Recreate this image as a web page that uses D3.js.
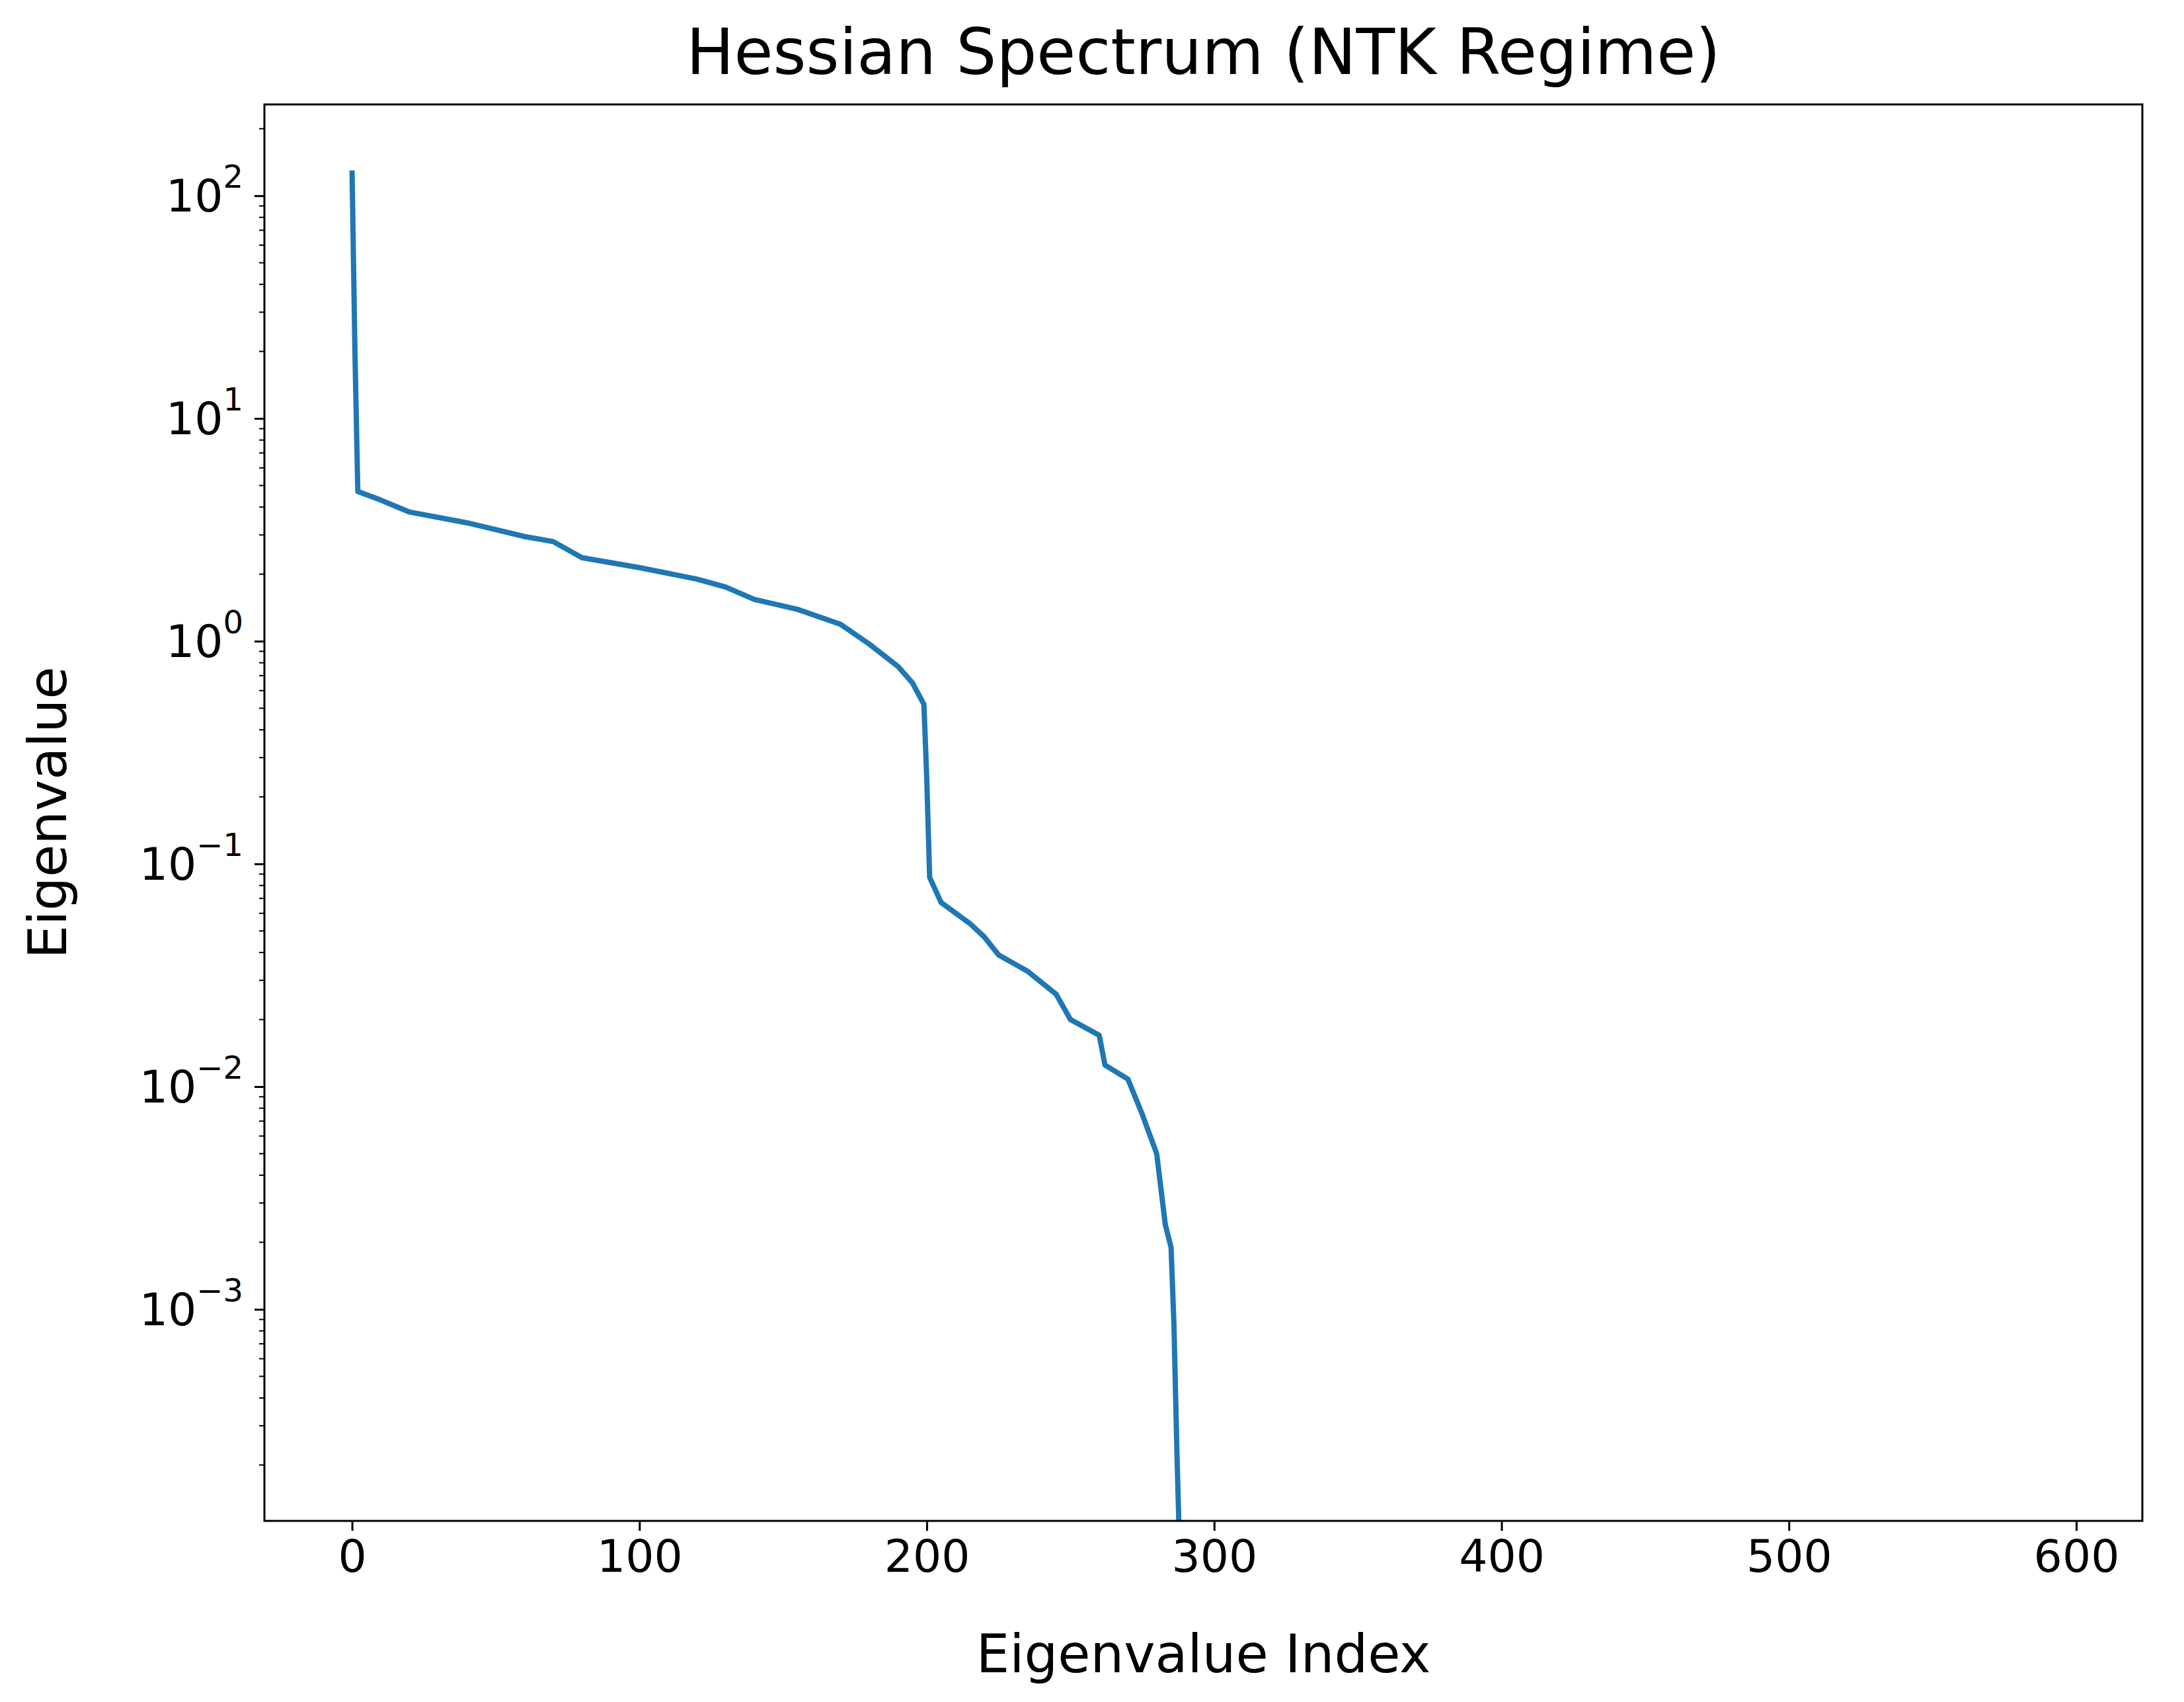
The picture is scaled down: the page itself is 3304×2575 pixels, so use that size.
<!DOCTYPE html>
<html><head><meta charset="utf-8">
<script src="https://cdn.jsdelivr.net/npm/d3@7"></script>
<style>body{margin:0;background:#fff}</style>
</head><body>
<svg id="chart" width="3304" height="2575"></svg>
<script>
// eigenvalue index and value
const idx = [0, 1, 2, 10, 20, 40, 60, 70, 80, 100, 120, 130, 140, 155, 170, 180, 190, 195, 199, 200, 201, 205, 215, 220, 225, 235, 245, 250, 260, 262, 270, 275, 280, 283, 285, 286, 287, 288];
const eig = [130, 20, 4.7, 4.3, 3.8, 3.4, 2.95, 2.8, 2.37, 2.14, 1.9, 1.75, 1.54, 1.39, 1.19, 0.97, 0.77, 0.65, 0.52, 0.24, 0.087, 0.067, 0.054, 0.047, 0.039, 0.033, 0.026, 0.020, 0.017, 0.0125, 0.0108, 0.0075, 0.005, 0.0024, 0.0019, 0.00086, 0.00024, 0.00008];
const xTicks = [0, 100, 200, 300, 400, 500, 600];
const yExps = [-3, -2, -1, 0, 1, 2];

const svg = d3.select("#chart");
const margin = {top: 158, right: 63, bottom: 274, left: 400};
const width = 3304, height = 2575;
const font = "DejaVu Sans, sans-serif";

const x = d3.scaleLinear().domain([-30.5, 623]).range([margin.left, width - margin.right]);
const y = d3.scaleLog().domain([Math.pow(10, -3.95), Math.pow(10, 2.41)]).range([height - margin.bottom, margin.top]);

svg.append("defs").append("clipPath").attr("id", "clip")
    .append("rect").attr("x", margin.left).attr("y", margin.top)
    .attr("width", width - margin.left - margin.right).attr("height", height - margin.top - margin.bottom);

// x axis
const xAxis = svg.append("g")
    .attr("transform", `translate(0, ${height - margin.bottom})`)
    .call(d3.axisBottom(x).tickValues(xTicks).tickSize(15).tickPadding(14));
xAxis.select(".domain").remove();
xAxis.selectAll("line").attr("stroke-width", 3);
xAxis.selectAll("text").attr("font-family", font).attr("font-size", 68).attr("fill", "#000");

// y axis, major ticks
const yAxis = svg.append("g")
    .attr("transform", `translate(${margin.left}, 0)`)
    .call(d3.axisLeft(y).tickValues(yExps.map(e => Math.pow(10, e))).tickSize(15).tickPadding(14).tickFormat(""));
yAxis.select(".domain").remove();
yAxis.selectAll("line").attr("stroke-width", 3);
yAxis.selectAll(".tick").each(function(d) {
    const e = Math.round(Math.log10(d));
    const t = d3.select(this).append("text")
        .attr("x", -32).attr("dy", "0.35em").attr("text-anchor", "end")
        .attr("font-family", font).attr("font-size", 68).attr("fill", "#000");
    t.append("tspan").text("10");
    t.append("tspan").attr("dy", "-0.75em").attr("font-size", 48).text(e < 0 ? "\u2212" + (-e) : e);
});

// minor ticks
const minor = [];
for (let e = -4; e <= 2; e++) for (let k = 2; k <= 9; k++) {
    const v = k * Math.pow(10, e);
    if (v >= y.domain()[0] && v <= y.domain()[1]) minor.push(v);
}
svg.append("g").selectAll("line").data(minor).enter().append("line")
    .attr("x1", margin.left - 8).attr("x2", margin.left)
    .attr("y1", d => y(d)).attr("y2", d => y(d))
    .attr("stroke", "#000").attr("stroke-width", 2);

// line
const pts = idx.map((d, i) => ({i: d, v: eig[i]}));
svg.append("path").datum(pts)
    .attr("clip-path", "url(#clip)")
    .attr("fill", "none").attr("stroke", "#1f77b4").attr("stroke-width", 8)
    .attr("stroke-linejoin", "round")
    .attr("d", d3.line().x(d => x(d.i)).y(d => y(d.v)));

// frame
svg.append("rect").attr("x", margin.left).attr("y", margin.top)
    .attr("width", width - margin.left - margin.right).attr("height", height - margin.top - margin.bottom)
    .attr("fill", "none").attr("stroke", "#000").attr("stroke-width", 3);

// labels
svg.append("text").attr("x", (margin.left + width - margin.right) / 2).attr("y", 112)
    .attr("text-anchor", "middle").attr("font-family", font).attr("font-size", 96).text("Hessian Spectrum (NTK Regime)");
svg.append("text").attr("x", (margin.left + width - margin.right) / 2).attr("y", 2530)
    .attr("text-anchor", "middle").attr("font-family", font).attr("font-size", 80).text("Eigenvalue Index");
svg.append("text").attr("transform", `translate(100, ${(margin.top + height - margin.bottom) / 2}) rotate(-90)`)
    .attr("text-anchor", "middle").attr("font-family", font).attr("font-size", 80).text("Eigenvalue");
</script>
</body></html>
